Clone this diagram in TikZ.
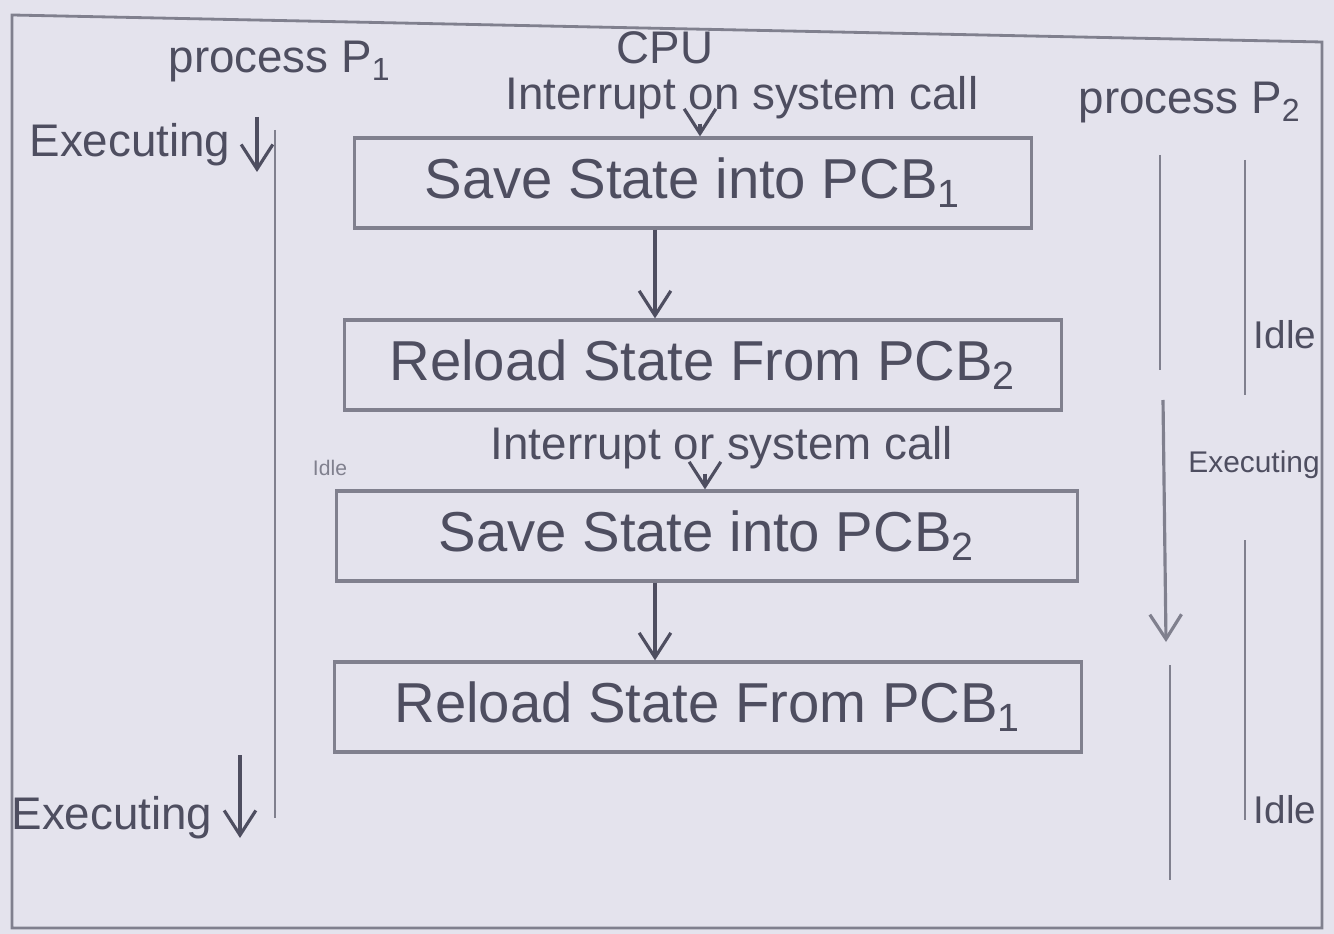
\documentclass[tikz,border=0pt]{standalone}
\usepackage{fontspec}
\setmainfont{Liberation Sans}
\usetikzlibrary{arrows.meta}
\definecolor{paper}{RGB}{228,227,237}
\definecolor{pencil}{RGB}{78,78,96}
\definecolor{lead}{RGB}{128,128,142}

\begin{document}
\begin{tikzpicture}[
    x=0.01cm, y=-0.01cm,
    block/.style={rectangle, draw=lead, line width=0.9pt, text=pencil, minimum height=0.9cm, inner sep=0pt, font=\fontsize{16}{19}\selectfont},
    label/.style={text=pencil, inner sep=1pt, font=\fontsize{13}{15}\selectfont},
    small/.style={text=pencil, inner sep=1pt, font=\fontsize{11}{13}\selectfont},
    tiny/.style={text=lead, inner sep=0pt, font=\fontsize{6}{7}\selectfont},
    line/.style={draw=lead, line width=0.8pt},
    arrow/.style={->, line width=0.9pt, draw=pencil, >={Straight Barb[length=7pt,width=9pt]}}
]
    \useasboundingbox (0,0) rectangle (1334,934);
    \fill[paper] (0,0) rectangle (1334,934);
    \draw[line] (12,928) -- (12,15) -- (1322,42) -- (1322,928) -- cycle;

    % CPU column
    \node[label] (cpu) at (665,48) {CPU};
    \node[label] (int1) at (742,98) {Interrupt on system call};
    \node[block, minimum width=6.77cm] (save1) at (693,183) {Save State into PCB\textsubscript{1}};
    \node[block, minimum width=7.17cm] (reload2) at (703,365) {Reload State From PCB\textsubscript{2}};
    \node[label] (int2) at (722,448) {Interrupt or system call};
    \node[block, minimum width=7.40cm] (save2) at (707,536) {Save State into PCB\textsubscript{2}};
    \node[block, minimum width=7.47cm] (reload1) at (708,707) {Reload State From PCB\textsubscript{1}};
    \coordinate (colA) at (655,0);
    \coordinate (colB) at (700,0);
    \coordinate (colC) at (705,0);
    \draw[arrow] (int1.south -| colB) -- (save1.north -| colB);
    \draw[arrow] (save1.south -| colA) -- (reload2.north -| colA);
    \draw[arrow] (int2.south -| colC) -- (save2.north -| colC);
    \draw[arrow] (save2.south -| colA) -- (reload1.north -| colA);

    % process P1
    \node[label] (proc1) at (280,62) {process P\textsubscript{1}};
    \node[label] (exec1) at (130,145) {Executing};
    \node[label] (exec2) at (112,818) {Executing};
    \node[tiny] (idle1) at (330,468) {Idle};
    \draw[arrow] (257,117) -- (257,172);
    \draw[arrow] (240,755) -- (240,838);
    \draw[line] (275,130) -- (275,818);

    % process P2
    \node[label] (proc2) at (1190,103) {process P\textsubscript{2}};
    \node[small] (idle2) at (1285,335) {Idle};
    \node[small, font=\fontsize{8.5}{10}\selectfont] (exec3) at (1254,465) {Executing};
    \node[small] (idle3) at (1285,810) {Idle};
    \draw[line] (1160,155) -- (1160,370);
    \draw[line] (1245,160) -- (1245,395);
    \draw[arrow, draw=lead] (1163,400) -- (1166,642);
    \draw[line] (1245,540) -- (1245,820);
    \draw[line] (1170,665) -- (1170,880);
\end{tikzpicture}
\end{document}
